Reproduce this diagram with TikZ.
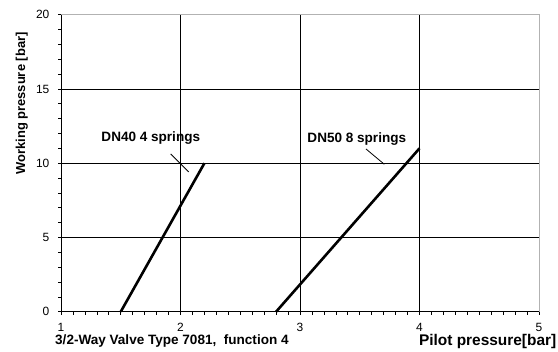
\documentclass[tikz,border=0pt]{standalone}
\usepackage{fontspec}
\setmainfont{Liberation Sans}
\begin{document}
\begin{tikzpicture}[x=1bp,y=1bp,
  gridline/.style={line width=0.8bp, black},
  framegray/.style={line width=0.8bp, black!30},
  axisline/.style={line width=0.8bp, black},
  curveline/.style={line width=2.6bp, black},
  leaderline/.style={line width=0.8bp, black},
  tickline/.style={line width=0.7bp, black},
  ticklab/.style={font=\fontsize{12}{14}\selectfont, inner sep=0pt},
  lab/.style={font=\fontsize{13.6}{16}\selectfont\bfseries, inner sep=0pt},
  axlab/.style={font=\fontsize{13}{15}\selectfont\bfseries, inner sep=0pt}]
\useasboundingbox (0,0) rectangle (558,351);
\begin{scope}[shift={(61,39.3)}, x=119.5bp, y=14.85bp]
  % grid
  \foreach \gx in {1,2,3} \draw[gridline] (\gx,0) -- (\gx,20);
  \foreach \gy in {5,10,15} \draw[gridline] (0,\gy) -- (4,\gy);
  % frame
  \draw[framegray] (0,20) -- (4,20) -- (4,0);
  \draw[axisline] (0,20) -- (0,0) -- (4,0);
  % ticks
  \foreach \i in {0,...,20} \draw[tickline] (0,\i) -- ++(-3.5bp,0);
  \foreach \i in {0,...,40} \draw[tickline] (\i/10,0) -- ++(0,-3.5bp);
  % tick labels
  \foreach \v in {0,5,10,15,20}
    \node[ticklab, anchor=east] (ylab\v) at ([xshift=-11.5bp]0,\v) {\v};
  \foreach \v [evaluate=\v as \p using int(\v+1)] in {0,1,2,3,4}
    \node[ticklab, anchor=north] (xlab\v) at ([yshift=-11.3bp]\v,0) {\p};
  % curves
  \coordinate (a0) at (0.5,0);
  \coordinate (a1) at (1.2,10);
  \coordinate (b0) at (1.8,0);
  \coordinate (b1) at (3.0,11);
  \draw[curveline] (a0) -- (a1);
  \draw[curveline] (b0) -- (b1);
  % leaders
  \coordinate (la0) at (0.918,10.62);
  \coordinate (la1) at (1.069,9.41);
  \coordinate (lb0) at (2.552,10.96);
  \coordinate (lb1) at (2.705,9.93);
  \draw[leaderline] (la0) -- (la1);
  \draw[leaderline] (lb0) -- (lb1);
\end{scope}
\node[lab, anchor=base] (dn40) at (150.8,209.3) {DN40 4 springs};
\node[lab, anchor=base] (dn50) at (356.8,208.3) {DN50 8 springs};
\node[axlab, anchor=base, rotate=90] (ylabel) at (25,247.5) {Working pressure [bar]};
\node[font=\fontsize{15.5}{17}\selectfont\bfseries, inner sep=0pt, anchor=base east] (xlabel) at (556.5,5.6) {Pilot pressure[bar]};
\node[font=\fontsize{13.6}{16}\selectfont\bfseries, inner sep=0pt, anchor=base west] (title) at (55,6.2) {3/2-Way Valve Type 7081,\ \ function 4};
\end{tikzpicture}
\end{document}
